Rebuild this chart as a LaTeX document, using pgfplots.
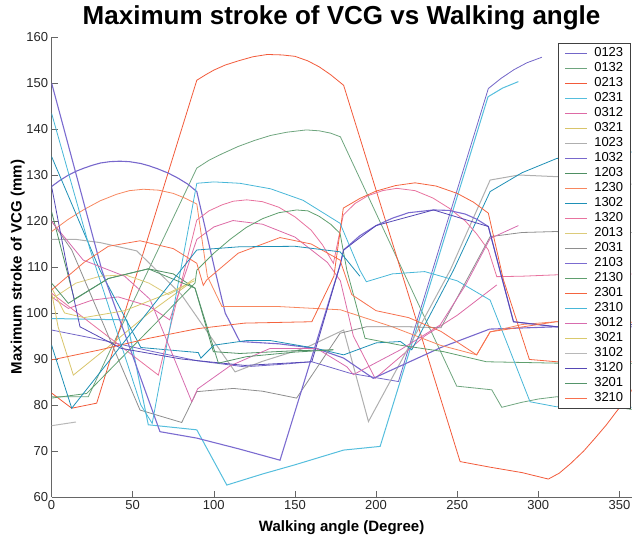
\documentclass[border=0pt]{standalone}
\usepackage{fontspec}
\setmainfont{Liberation Sans}
\usepackage{pgfplots}
\pgfplotsset{compat=1.18}
\definecolor{cA}{HTML}{7366C8}
\definecolor{cB}{HTML}{6EA57E}
\definecolor{cC}{HTML}{F25A3A}
\definecolor{cD}{HTML}{55BEDD}
\definecolor{cE}{HTML}{DD6AA5}
\definecolor{cF}{HTML}{D8C46A}
\definecolor{cG}{HTML}{AFAFAF}
\definecolor{cH}{HTML}{7868CC}
\definecolor{cI}{HTML}{4E8F62}
\definecolor{cJ}{HTML}{F7875F}
\definecolor{cK}{HTML}{1E90B6}
\definecolor{cL}{HTML}{E8739F}
\definecolor{cM}{HTML}{DCCB7A}
\definecolor{cN}{HTML}{8E8E8E}
\definecolor{cO}{HTML}{7B6BD0}
\definecolor{cP}{HTML}{5F9F6E}
\definecolor{cQ}{HTML}{F4643F}
\definecolor{cR}{HTML}{48B7D8}
\definecolor{cS}{HTML}{D76CAE}
\definecolor{cT}{HTML}{D9C96C}
\definecolor{cU}{HTML}{B8B8B8}
\definecolor{cV}{HTML}{5548B5}
\definecolor{cW}{HTML}{54956A}
\definecolor{cX}{HTML}{F7704E}
\begin{document}
\begin{tikzpicture}
\begin{axis}[
  scale only axis, width=580pt, height=460pt,
  xmin=0, xmax=357.5, ymin=60, ymax=160,
  axis lines*=left,
  axis line style={draw=black!60, line width=0.6pt},
  tick align=inside, major tick length=6pt,
  tick style={black!60, line width=0.6pt},
  xtick={0,50,...,350}, ytick={60,70,...,160},
  ticklabel style={font=\fontsize{13}{15}\selectfont, text=black!85},
  /pgf/number format/assume math mode=true,
  xlabel={Walking angle (Degree)},
  ylabel={Maximum stroke of VCG (mm)},
  xlabel style={font=\fontsize{15}{18}\selectfont\bfseries, at={(rel axis cs:0.5,0)}, anchor=base, yshift=-35pt},
  ylabel style={font=\fontsize{15}{18}\selectfont\bfseries, at={(rel axis cs:0,0.5)}, anchor=base, yshift=30pt},
  title={Maximum stroke of VCG vs Walking angle},
  title style={font=\fontsize{26}{30}\selectfont\bfseries, at={(rel axis cs:0.5,1)}, anchor=base, yshift=6pt},
  legend style={at={(rel axis cs:1,1)}, anchor=north east, yshift=-6pt, xshift=-0.6pt,
    draw=black!75, line width=0.6pt, fill=white,
    font=\fontsize{13}{15}\selectfont, inner xsep=6pt, inner ysep=2.5pt,
    row sep=0pt, nodes={inner sep=1.5pt, text height=9.5pt, text depth=2.5pt},
    /tikz/every odd column/.append style={column sep=5pt}},
  legend cell align=left,
  legend image code/.code={\draw[#1] (0pt,0pt) -- (22pt,0pt);},
  no marks,
  every axis plot/.append style={line width=0.8pt},
]
\coordinate (sw) at (rel axis cs:0,0);
% 0123
\addplot[cA] coordinates {(0,96.3) (30,94.2) (60,91.8) (90,89.6) (119,88.3) (140,88.8) (160.4,89.4) (184,86.9) (213.8,85.1) (240,115.3) (269.2,148.8) (277,151) (285,152.9) (293,154.4) (302.2,155.6)};
% 0132
\addplot[cB] coordinates {(0,81.8) (22.6,81.8) (45,98.5) (70,117) (89.5,131.5) (97,133.2) (105,134.6) (115,136.2) (125,137.5) (135,138.6) (145,139.3) (157,139.8) (165,139.6) (172,139.1) (178,138.3) (249.7,84.1) (271.3,83.3) (277.5,79.5) (290,80.6) (300,81.3) (311.4,81.8) (330,80.5) (358,79)};
% 0213
\addplot[cC] coordinates {(0,82.6) (12.4,79.3) (27.8,80.4) (89.5,150.6) (95,151.8) (100,152.8) (107,153.9) (115,154.8) (124,155.7) (133,156.2) (142,156.1) (150,155.8) (158,154.8) (165,153.5) (172,151.8) (180,149.5) (251.8,67.7) (270,66.5) (290,65.3) (306.2,63.9) (313,65.2) (320,67.3) (328,70) (335,72.8) (342,75.7) (348,78.5) (354.6,81.5) (358,83.5)};
% 0231
\addplot[cD, line width=1pt] coordinates {(0,98.8) (46.3,98.5) (59.6,75.7) (89.5,74.6) (108,62.6) (130,65) (150,67) (180,70.2) (202.5,71) (269,147) (278,148.9) (287.7,150.3)};
% 0312
\addplot[cE] coordinates {(0,103.5) (10.3,101) (25,102.8) (41,103.5) (60,101.5) (72.8,98.5) (89.5,116) (100,118.7) (111.8,120.1) (130,119.3) (150,116.5) (170,111) (178,107) (186,95) (199.4,85.8) (230,95) (250,99.5) (274.4,106.1)};
% 0321
\addplot[cF] coordinates {(0,104.5) (4,97) (13.4,86.5) (39,93.8) (60,100) (85.3,106.5)};
% 1023
\addplot[cG, line width=1pt] coordinates {(0,116) (15,116) (30,115.3) (52.5,113.5) (80,104) (113.1,87.2) (130,89.5) (157,92.5) (180,96.3) (195.3,76.4) (245.7,109.3) (270.3,128.9) (288,130) (320,129.5) (358,128)};
% 1032
\addplot[cH, line width=1.1pt] coordinates {(0,127.5) (5,128.8) (10,129.9) (15,130.8) (20,131.5) (25,132.1) (30,132.6) (36,132.9) (42,133) (48,132.9) (55,132.5) (60,132) (65,131.4) (72,130.4) (78,129.3) (84,128) (89.5,126.4) (100.7,109.3) (107,100) (116,93.8) (140,93.3) (163,92.3) (180,90.2) (198.3,85.8) (240,92.5) (270,96.5) (311,97) (358,97)};
% 1203
\addplot[cI] coordinates {(0,122) (14,103) (35,107.5) (59.6,109.6) (75,108.5) (88.4,105.4) (99.7,91.6) (116,91.2) (150,91.8) (173.7,92)};
% 1230
\addplot[cJ] coordinates {(0,117.7) (10,120.3) (20,122.5) (30,124.4) (40,125.8) (48,126.6) (56.5,126.9) (66,126.7) (75,126) (82,125) (89.5,123.7) (96,108) (105,101.4) (140,101.4) (178,100.7) (210,97) (239.5,93) (262,90.9) (270.3,95.9) (290,97.5) (311,98.1) (358,98)};
% 1302
\addplot[cK] coordinates {(0,134) (29.8,109.3) (55,92.5) (90.4,91.4) (92,90.2) (100,93) (120,94) (135,94) (163,92.3) (180,90.9) (200,93.5) (215,93.8) (222,92) (247.7,109.3) (270.3,126.4) (290,130.5) (311.4,133.6) (358,135)};
% 1320
\addplot[cL] coordinates {(0,104.3) (65.8,86.5) (89.5,120.2) (97,122.2) (105,123.5) (112,124.3) (120.3,124.6) (130,124.2) (140,123) (150,120.9) (160,118) (167,114.8) (173.7,110.8) (179.8,121.3) (187,123.8) (195,125.5) (204,126.6) (212.8,127.1) (224,126.6) (235,125) (245,122.8) (255,120) (262,117.2) (269.2,113.7) (274.4,107.9) (290,108) (311.4,108.3) (358,108.5)};
% 2013
\addplot[cM] coordinates {(0,103) (15,106.5) (30,108) (45.3,108.3) (60,106.5) (72,104) (80,105.5) (88,107.5)};
% 2031
\addplot[cN] coordinates {(0,120) (12.4,113.7) (54.5,78.9) (80.2,76.2) (89.5,82.9) (112,83.6) (130,83) (151,81.5) (177.8,95.6) (194,97) (220,97) (240,96.8) (270.3,116.6) (290,117.5) (310,117.7) (358,117.5)};
% 2103
\addplot[cO, line width=1.1pt] coordinates {(0,150) (31,109.3) (66.8,74.2) (89.5,72.8) (115,70.5) (140.8,68) (177.8,110.4) (180,113.7) (190,116.8) (200,119) (210,120.6) (220,121.8) (235.4,122.4) (245,122.3) (255,121.5) (262,120.4) (269.2,118.8) (278,107) (284.7,98.1) (311.4,97) (358,97.5)};
% 2130
\addplot[cP] coordinates {(0,81.5) (21.6,82.5) (88.4,106.5) (89.5,109.3) (100,113) (110,116) (120,118.6) (130,120.5) (140,121.8) (151,122.4) (158,122.2) (165,121) (172,119.3) (177.8,117.3) (182,109.3) (193.2,94.5) (215,93) (241.5,91.6) (268,89.4) (311,89.1) (358,89)};
% 2301
\addplot[cQ] coordinates {(0,89.8) (30,92) (60,94.5) (90,96.6) (119,97.8) (160.4,98.1) (174,108) (179.8,122.8) (190,124.9) (200,126.5) (212,127.7) (224,128.3) (237,127.6) (250,126) (260,124.1) (269.2,121.7) (278.5,107.2) (294.5,89.9) (311.4,89.4) (358,89.4)};
% 2310
\addplot[cR] coordinates {(0,143.4) (23.8,113.7) (55,80) (62,76) (89.5,128.2) (100,128.5) (116,128.2) (135,127) (155,124.5) (177.8,119.5) (190,109.3) (194,106.8) (210,108.5) (230,109) (250,107) (270.3,102.8) (294.9,80.7) (311.4,79.6) (358,79.5)};
% 3012
\addplot[cS] coordinates {(0,119.9) (19.5,111.5) (45,108) (60.6,103) (86.4,80.7) (90,83.5) (110,88.5) (134.7,92.3) (163.4,92.3) (182,88.3) (186,86.6) (215,92) (239.5,97.4) (255,106) (270.3,116.2) (287.7,119)};
% 3021
\addplot[cT] coordinates {(0,105.5) (8,100) (20,99) (45,100.5) (70,104) (88,107)};
% 3102
\addplot[cU, line width=1pt] coordinates {(0,75.5) (15,76.3)};
% 3120
\addplot[cV] coordinates {(0,127.5) (9.3,110.4) (17.5,97) (43,92.3) (80,90) (119,88.6) (160.4,89.4) (177.8,110.4) (180,113.7) (200,119) (235.4,122.4) (269.2,118.8) (284.7,98.1) (311.4,97) (358,97.5)};
% 3201
\addplot[cW] coordinates {(0,106.5) (10.3,102.1) (35,107.5) (59.6,109.6) (88.4,105.4) (102.8,89.1) (120,90.5) (150,91.5) (173.7,92)};
% 3210
\addplot[cX] coordinates {(0,105) (20,111) (35,114.5) (54.5,115.7) (75,114) (89.5,110.8) (93.5,106) (95.6,107.2) (115,113) (140.8,116.4) (160,115) (177.8,111.5) (185,104) (200,100.5) (220,99) (240,96) (262,90.9) (270.3,95.9) (311,98.1) (358,98)};
% extra teal-cyan branch
\addplot[cK, forget plot] coordinates {(0,93) (12.4,79.3) (89.5,113.7) (116,114.4) (150,114.5) (177.8,113.3) (190,108)};
\legend{0123,0132,0213,0231,0312,0321,1023,1032,1203,1230,1302,1320,2013,2031,2103,2130,2301,2310,3012,3021,3102,3120,3201,3210}
\end{axis}
\pgfresetboundingbox
\path (sw) ++(-51.6pt,-46pt) rectangle ++(632pt,543pt);
\end{tikzpicture}
\end{document}
